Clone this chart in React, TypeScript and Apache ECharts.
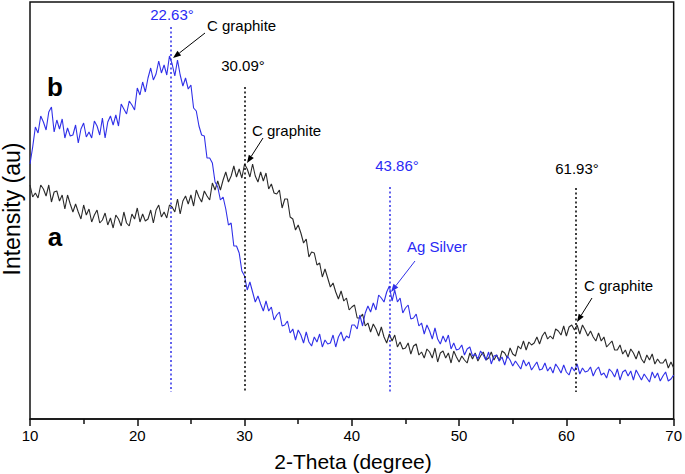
import React, { useEffect, useRef } from "react";
import * as echarts from "echarts";

// 2-theta sampling (degrees), every 0.25 deg from 10 to 70
const thetaStart = 10;
const thetaStep = 0.25;

// sample b (blue) intensity (arbitrary units)
const seriesB: number[] = [
  255, 272, 292, 286, 303, 297, 289, 307, 312, 287, 299, 290, 300, 281, 291, 283,
  284, 294, 276, 290, 296, 282, 287, 281, 298, 293, 284, 301, 281, 297, 303, 294,
  304, 293, 315, 310, 305, 318, 314, 309, 331, 324, 337, 327, 341, 351, 339, 345,
  358, 346, 354, 344, 363, 355, 343, 359, 344, 333, 341, 330, 334, 311, 308, 293,
  284, 283, 261, 261, 256, 237, 232, 219, 222, 210, 194, 196, 173, 173, 166, 148,
  143, 129, 137, 127, 117, 123, 115, 108, 118, 108, 112, 99, 104, 107, 93, 94,
  98, 86, 90, 79, 89, 84, 76, 87, 77, 73, 82, 77, 85, 72, 79, 75,
  76, 84, 72, 82, 87, 78, 83, 81, 94, 94, 90, 104, 93, 106, 113, 107,
  116, 109, 124, 121, 117, 127, 133, 118, 129, 117, 121, 106, 111, 114, 100, 101,
  105, 93, 96, 85, 94, 88, 80, 91, 80, 75, 83, 77, 84, 70, 76, 69,
  70, 74, 64, 70, 72, 63, 65, 60, 68, 64, 59, 67, 55, 63, 64, 58,
  62, 54, 63, 59, 53, 58, 54, 50, 59, 53, 57, 49, 53, 57, 49, 50,
  56, 48, 52, 46, 55, 51, 46, 54, 47, 44, 52, 48, 55, 45, 51, 47,
  48, 52, 43, 49, 52, 44, 46, 41, 50, 47, 42, 50, 39, 47, 49, 43,
  48, 39, 49, 44, 39, 45, 41, 37, 47, 41, 46, 38, 43, 47, 38, 40,
  44,
];

// sample a (black) intensity (arbitrary units)
const seriesA: number[] = [
  234, 222, 226, 221, 234, 230, 223, 234, 217, 227, 228, 218, 224, 210, 224, 215,
  207, 215, 207, 200, 214, 204, 210, 197, 204, 209, 196, 199, 206, 194, 201, 191,
  204, 200, 193, 207, 196, 193, 205, 200, 211, 197, 205, 198, 200, 209, 196, 209,
  214, 202, 207, 201, 214, 212, 207, 220, 205, 218, 223, 215, 224, 213, 229, 222,
  217, 228, 223, 219, 236, 229, 238, 229, 239, 247, 237, 243, 253, 242, 250, 241,
  255, 250, 242, 255, 243, 237, 247, 238, 246, 230, 235, 226, 225, 229, 211, 220,
  220, 202, 200, 189, 194, 186, 176, 180, 162, 167, 166, 154, 156, 142, 150, 141,
  132, 136, 127, 120, 128, 118, 121, 109, 112, 114, 101, 101, 105, 93, 96, 87,
  95, 90, 83, 92, 82, 76, 85, 78, 84, 72, 77, 70, 71, 76, 65, 73,
  75, 64, 67, 61, 70, 67, 61, 71, 57, 66, 68, 61, 66, 56, 68, 62,
  57, 63, 59, 56, 66, 60, 66, 58, 63, 67, 59, 61, 67, 59, 64, 58,
  68, 66, 61, 71, 65, 63, 73, 70, 78, 69, 77, 74, 76, 82, 75, 83,
  87, 80, 83, 80, 90, 88, 84, 93, 83, 92, 94, 89, 94, 85, 94, 89,
  83, 88, 82, 78, 86, 78, 82, 72, 75, 78, 69, 69, 74, 65, 69, 62,
  70, 66, 60, 68, 60, 56, 64, 59, 65, 55, 60, 56, 56, 60, 51, 57,
  51,
];

// peak marker lines (x position on axis as drawn, top of line in intensity units)
const peakX = [23.1, 30.0, 43.5, 60.9];
const peakTop = [392, 332, 232, 231];
const peakBottom = 27;
const peakLabels = ["22.63°", "30.09°", "43.86°", "61.93°"];

const xTicks = [10, 20, 30, 40, 50, 60, 70];

const BLUE = "#3030e8";
const BLUE_TEXT = "#2a2af5";
const FONT = "'Liberation Sans', Arial, sans-serif";

function toPairs(vals: number[]): [number, number][] {
  return vals.map((v, i) => [thetaStart + i * thetaStep, v]);
}

function arrow(x1: number, y1: number, x2: number, y2: number, color: string) {
  const dx = x2 - x1;
  const dy = y2 - y1;
  const len = Math.sqrt(dx * dx + dy * dy);
  const ux = dx / len;
  const uy = dy / len;
  const hl = 8;
  const hw = 3;
  const bx = x2 - ux * hl;
  const by = y2 - uy * hl;
  return [
    {
      type: "line",
      shape: { x1, y1, x2: bx, y2: by },
      style: { stroke: color, lineWidth: 1 },
      z: 10,
    },
    {
      type: "polygon",
      shape: {
        points: [
          [x2, y2],
          [bx - uy * hw, by + ux * hw],
          [bx + uy * hw, by - ux * hw],
        ],
      },
      style: { fill: color },
      z: 10,
    },
  ];
}

function txt(
  text: string,
  x: number,
  y: number,
  color: string,
  size: number,
  align: string,
  bold = false,
  rotation = 0
) {
  return {
    type: "text",
    x,
    y,
    rotation,
    z: 10,
    style: {
      text,
      fill: color,
      fontSize: size,
      fontFamily: FONT,
      fontWeight: bold ? "bold" : "normal",
      align,
      verticalAlign: "middle",
    },
  };
}

export default function App() {
  const ref = useRef<HTMLDivElement>(null);

  useEffect(() => {
    if (!ref.current) return;
    const chart = echarts.init(ref.current, undefined, { renderer: "svg" });

    const peakColors = [BLUE, "#000", BLUE, "#000"];
    const markLines = peakX.map((x, i) => [
      { coord: [x, peakTop[i]], lineStyle: { color: peakColors[i] } },
      { coord: [x, peakBottom] },
    ]);

    const graphics: any[] = [
      txt(peakLabels[0], 172, 14, BLUE_TEXT, 15, "center"),
      txt(peakLabels[1], 243, 65, "#000", 15, "center"),
      txt(peakLabels[2], 397, 165, BLUE_TEXT, 15, "center"),
      txt(peakLabels[3], 577, 168, "#000", 15, "center"),
      txt("C graphite", 207, 25, "#000", 15, "left"),
      txt("C graphite", 252, 130, "#000", 15, "left"),
      txt("Ag Silver", 407, 246, BLUE_TEXT, 15, "left"),
      txt("C graphite", 584, 285, "#000", 15, "left"),
      txt("b", 55, 87, "#000", 26, "center", true),
      txt("a", 55, 237, "#000", 26, "center", true),
      txt("2-Theta (degree)", 353, 461, "#000", 21, "center"),
      txt("Intensity (au)", 12, 209, "#000", 23, "center", false, Math.PI / 2),
      ...arrow(205, 33, 173, 58, "#000"),
      ...arrow(263, 138, 247, 163, "#000"),
      ...arrow(415, 261, 391, 292, BLUE),
      ...arrow(592, 298, 577, 322, "#000"),
    ];

    chart.setOption({
      animation: false,
      backgroundColor: "#fff",
      grid: {
        left: 30,
        right: 9,
        top: 2,
        bottom: 55,
        show: true,
        borderColor: "#111",
        borderWidth: 1.5,
        backgroundColor: "transparent",
      },
      xAxis: {
        type: "value",
        min: 10,
        max: 70,
        interval: 10,
        axisLine: { show: true, lineStyle: { color: "#111", width: 1.5 } },
        axisTick: { show: true, inside: false, length: 7, lineStyle: { color: "#111", width: 1.5 } },
        minorTick: { show: true, splitNumber: 2, length: 5, lineStyle: { color: "#111", width: 1.5 } },
        splitLine: { show: false },
        axisLabel: {
          color: "#000",
          fontSize: 15,
          fontFamily: FONT,
          margin: 9,
          formatter: (v: number) => (xTicks.includes(v) ? String(v) : ""),
        },
      },
      yAxis: {
        type: "value",
        min: 0,
        max: 417,
        axisLine: { show: false },
        axisTick: { show: false },
        axisLabel: { show: false },
        splitLine: { show: false },
      },
      series: [
        {
          name: "a",
          type: "line",
          data: toPairs(seriesA),
          showSymbol: false,
          symbol: "none",
          lineStyle: { color: "#2a2a2a", width: 1.1 },
          markLine: {
            silent: true,
            symbol: "none",
            label: { show: false },
            lineStyle: { type: [2, 2.5], width: 1.5 },
            data: markLines,
          },
          z: 2,
        },
        {
          name: "b",
          type: "line",
          data: toPairs(seriesB),
          showSymbol: false,
          symbol: "none",
          lineStyle: { color: BLUE, width: 1.1 },
          z: 3,
        },
      ],
      graphic: graphics,
    });

    return () => chart.dispose();
  }, []);

  return (
    <div
      ref={ref}
      style={{ position: "fixed", left: 0, top: 0, width: 685, height: 474, background: "#fff" }}
    />
  );
}
